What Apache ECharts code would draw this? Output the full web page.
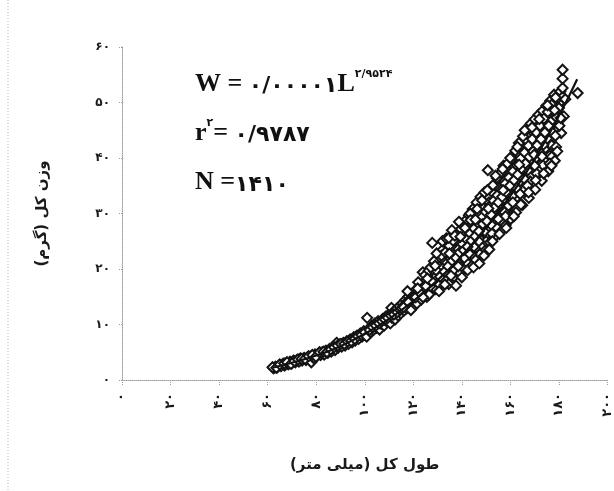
<!DOCTYPE html>
<html>
<head>
<meta charset="utf-8">
<script src="https://cdn.jsdelivr.net/npm/echarts@6/dist/echarts.min.js"></script>
<style>
  html, body { margin: 0; padding: 0; background: #fff; }
  #chart { width: 614px; height: 491px; }
</style>
</head>
<body>
<div id="chart"></div>
<script>
// Total length (mm) vs. total weight (g) of the sampled fish
const lengthWeightPoints = [
  [62.5,2.1],[63.2,2.4],[64.0,2.3],[64.8,2.7],[65.5,2.5],[66.3,2.9],[67.0,2.6],[67.8,3.1],[68.5,2.8],[69.2,3.3],
  [70.0,3.0],[70.6,3.5],[71.4,3.2],[72.1,3.6],[72.9,3.3],[73.5,3.9],[74.2,3.5],[75.0,4.0],[75.8,3.6],[76.5,4.1],
  [77.2,3.8],[78.0,4.3],[78.0,3.2],[78.8,4.0],[79.5,4.6],[80.3,4.3],
  [81.0,4.8],[81.8,4.5],[82.5,5.0],[83.3,4.6],[84.0,5.3],[84.8,4.9],[85.5,5.6],[86.2,5.1],[87.0,5.8],[87.8,5.4],
  [88.4,6.7],[89.0,5.8],[89.7,6.4],[90.5,6.0],[91.2,6.7],[91.9,6.2],[92.6,7.0],[93.3,6.5],[94.0,7.3],[94.8,6.8],
  [95.5,7.7],[96.1,7.1],[96.8,8.0],[97.5,7.4],[98.2,8.4],[98.9,7.8],[99.6,8.8],[100.3,8.1],[101.0,11.2],[101.2,8.7],
  [62.0,2.3],[63.6,2.2],[65.0,2.8],[66.8,3.0],[68.0,3.2],[69.6,2.9],[71.0,3.4],[72.5,3.7],[74.0,3.8],[75.4,3.8],
  [76.9,4.3],[78.4,4.5],[79.9,4.2],[81.4,5.0],[83.0,5.1],[84.4,5.0],[86.0,5.5],[87.4,5.9],[88.8,6.2],[90.2,6.5],
  [91.6,6.5],[93.0,6.9],[94.4,7.0],[95.9,7.4],[97.2,7.9],[98.6,8.1],[100.0,8.6],[100.8,7.8],
  [101.8,9.3],[102.4,8.6],[103.0,9.8],[103.6,9.0],[104.2,10.2],[104.9,9.4],[105.5,10.6],[106.1,9.1],[106.8,10.1],[107.4,11.0],
  [108.0,9.8],[108.6,11.4],[109.2,10.5],[109.9,11.8],[110.5,10.2],[111.0,13.0],[111.2,11.2],[111.8,12.3],[112.5,10.9],[113.1,12.8],
  [113.7,11.6],[114.3,13.3],[114.9,12.0],[115.5,13.8],[116.1,12.5],[116.7,14.4],[117.3,12.9],[117.9,15.0],[118.5,13.4],[119.1,15.5],
  [119.7,13.0],[120.3,14.6],[120.9,16.2],[121.5,13.8],[122.1,15.3],[122.7,17.0],[123.3,14.5],[123.9,19.4],[124.4,16.2],[125.0,17.8],
  [125.6,15.0],[126.2,16.8],[126.8,18.6],[127.4,15.9],
  [102.0,9.0],[103.3,9.5],[104.6,9.8],[105.9,10.2],[107.1,10.6],[108.3,10.9],[109.5,11.2],[110.8,11.6],[112.0,11.8],[113.4,12.2],
  [114.6,12.6],[115.8,13.3],[117.5,14.1],[119.4,14.6],[121.2,15.6],[123.6,16.0],[125.4,16.4],[126.5,15.4],[128.3,17.0],[129.9,17.8],
  [122.0,17.6],[124.8,18.9],[126.4,19.7],[119.0,12.6],[117.6,16.0],
  [127.8,24.7],[128.0,17.5],[128.6,19.6],[129.1,16.4],[129.7,18.3],[130.2,20.7],[130.8,17.2],[131.3,19.1],[131.9,23.4],[132.4,21.6],
  [133.0,18.0],[133.5,20.0],[134.0,22.5],[134.6,17.3],[135.1,19.0],[135.7,21.2],[136.2,23.8],[136.7,18.6],[137.3,20.3],[137.8,22.1],
  [138.3,25.0],[138.9,19.4],[139.4,21.4],[139.9,23.2],[140.5,26.3],[141.0,20.0],[141.5,22.4],[142.1,24.4],[142.6,27.0],[143.1,21.0],
  [143.7,23.3],[144.2,25.4],[144.7,28.5],[145.3,21.8],[145.8,24.3],[146.3,26.6],[146.9,29.9],[147.4,22.7],[147.9,25.2],[148.5,27.8],
  [149.0,31.0],[149.5,23.6],[150.1,26.2],[150.6,29.0],[150.7,37.8],[151.2,32.0],
  [130.0,21.8],[131.6,22.4],[133.2,23.0],[134.8,24.2],[136.4,25.1],[138.0,26.4],[139.6,27.2],[141.2,28.6],[142.9,29.7],[144.5,30.8],
  [146.1,32.0],[147.7,33.0],[149.3,33.8],[136.5,19.8],[139.0,21.0],[141.7,21.3],[144.0,22.7],[146.0,23.9],[148.0,24.4],[150.0,25.0],
  [133.0,17.2],[135.5,18.8],[138.5,20.5],[141.0,22.0],[143.0,22.8],[145.0,24.0],[147.0,25.0],[149.5,26.8],[143.4,30.0],[140.0,28.0],
  [151.6,24.8],[152.1,27.3],[152.7,30.2],[153.2,33.5],[153.7,25.9],[154.3,28.4],[154.8,31.3],[155.3,34.6],[155.9,26.8],[156.4,29.6],
  [156.9,32.4],[157.5,35.8],[158.0,27.9],[158.5,30.7],[159.1,33.6],[159.6,37.0],[160.1,29.0],[160.7,31.8],[161.2,34.8],[161.7,38.4],
  [162.3,30.2],[162.8,33.0],[163.3,36.1],[163.9,39.7],[164.4,42.2],[164.9,31.5],[165.5,34.4],[166.0,37.4],[166.5,40.8],[167.1,43.0],
  [167.6,32.8],[168.1,35.8],[168.6,38.8],[169.2,42.0],[169.7,44.4],[170.2,34.3],[170.8,37.2],[171.3,40.1],[171.8,43.3],[172.4,46.0],
  [172.9,35.9],[173.4,38.7],[174.0,41.6],[174.5,44.6],[175.0,47.6],[175.6,37.6],[176.1,40.4],[176.6,43.4],[177.2,46.2],[177.7,49.0],
  [177.0,42.3],[177.0,40.2],[178.3,39.5],[178.8,42.0],[179.3,45.0],[179.8,48.0],[180.4,50.0],[180.9,44.5],
  [152.4,26.4],[154.0,27.6],[156.0,28.8],[157.6,30.2],[159.2,31.4],[160.9,33.2],[162.5,34.6],[164.0,35.8],[165.6,36.3],[167.2,37.8],
  [169.0,39.5],[170.5,40.0],[172.0,41.1],[173.6,42.4],[175.2,43.5],[176.8,44.8],[178.5,44.0],[179.5,46.3],
  [152.8,35.1],[154.4,36.4],[156.0,37.3],[157.2,38.6],[158.8,39.0],[160.4,40.1],[162.0,41.3],[163.5,42.7],[165.2,43.9],[166.9,45.2],
  [168.4,46.2],[170.0,47.0],[171.6,47.8],[173.2,48.5],[174.8,49.4],[176.4,50.3],[178.0,51.4],[179.6,50.8],[180.6,52.0],[180.2,45.8],
  [176.2,39.0],[173.0,40.3],[170.0,38.6],[167.0,35.0],[164.0,33.5],[161.0,32.0],[158.0,29.5],[155.0,29.0],[152.0,28.0],
  [181.5,51.0],[181.5,52.6],[181.5,54.3],[181.5,55.9],[182.0,47.5],[182.6,50.6],[187.7,51.7],
  [115.2,12.9],[117.0,13.6],[118.8,14.3],[120.6,15.0],[122.4,15.8],[124.2,16.6],[126.0,17.4],[127.0,16.9],[128.8,18.4],[130.5,19.3],
  [132.2,20.2],[133.9,21.1],[135.5,21.9],[137.0,22.8],[138.6,23.6],[140.2,24.5],[141.8,25.4],[143.4,26.4],[145.0,27.3],[146.6,28.3],
  [148.2,29.3],[149.8,30.3],[151.4,31.3],[153.0,32.3],[154.6,33.3],[156.2,34.3],[157.8,35.4],[159.4,36.5],[161.0,37.6],[162.6,38.7],
  [164.2,39.9],[165.8,41.0],[167.4,42.2],[169.0,43.4],[170.6,44.6],[172.2,45.8],[173.8,47.1],[175.4,48.3],[177.0,49.6],[178.6,50.9],
  [180.0,49.0],
  [116.0,13.1],[118.0,14.0],[121.0,14.9],[123.0,15.6],[125.2,16.9],[127.6,17.8],[129.4,19.8],[131.0,18.6],[132.8,19.5],[134.3,20.5],
  [136.0,21.5],[137.6,22.0],[139.1,23.0],[140.8,23.4],[142.3,24.0],[143.9,25.1],[145.5,25.9],[147.0,26.8],[148.6,28.1],[150.3,28.6],
  [152.0,29.8],[153.5,31.1],[155.0,32.0],[156.6,33.0],[158.2,33.9],[159.8,35.0],[161.5,36.0],[163.0,37.0],[164.6,38.1],[166.2,39.0],
  [167.8,40.2],[169.4,41.2],[171.0,42.3],[172.6,43.4],[174.2,44.6],[175.8,45.8],[177.4,46.9],[179.0,47.3],
  [121.8,16.5],[124.0,14.9],[125.8,18.3],[127.2,20.3],[128.5,21.4],[129.6,22.8],[130.6,16.0],[132.0,25.0],[133.6,25.5],[134.6,25.6],
  [135.9,27.0],[137.1,26.0],[137.6,17.0],[138.8,28.5],[140.0,18.5],[141.3,27.4],[142.4,19.8],[143.6,28.8],[144.8,20.3],[146.3,30.8],
  [147.2,21.0],[148.3,32.4],[149.1,22.4],[150.5,34.2],[151.3,23.5],[152.6,25.0],[153.9,36.8],[155.5,26.3],[156.8,38.0],[158.3,27.4],
  [159.9,40.0],[161.4,29.5],[162.9,42.0],[164.3,31.6],[165.9,45.0],[167.5,33.8],[168.9,45.5],[170.4,36.0],[171.9,47.0],[173.7,37.2],
  [175.3,49.5],[176.9,38.6],[178.2,48.6],[179.3,41.2],[180.7,47.2],[169.8,40.6],[163.6,38.8],[157.0,34.2],[150.9,30.9],[145.6,28.9],
  [139.4,25.8],[134.9,22.8],[129.0,20.6]
];

// Fitted power curve W = aL^b, sampled along the length range
const fitLengths = [62, 70, 80, 90, 100, 110, 120, 130, 140, 150, 160, 170, 180, 187.5];
const fitWeights = [2.2, 3.1, 4.4, 6.1, 8.3, 11.0, 14.2, 18.0, 22.4, 27.5, 33.2, 39.8, 47.6, 54.2];

// Axis ticks
const xTicks = [0, 20, 40, 60, 80, 100, 120, 140, 160, 180, 200];
const yTicks = [0, 10, 20, 30, 40, 50, 60];

const xAxisTitle = 'طول کل (میلی متر)';
const yAxisTitle = 'وزن کل (گرم)';

const FA_DIGITS = '۰۱۲۳۴۵۶۷۸۹';
function toPersianDigits(v) {
  return String(v).replace(/\d/g, d => FA_DIGITS[d]);
}
// Keep the right-to-left phrase in one RTL run so the parentheses land correctly
function rtl(s) { return '\u200F' + s + '\u200F'; }

const chart = echarts.init(document.getElementById('chart'), null, { renderer: 'canvas' });

const dotted = { color: '#9a9a9a', width: 1, type: [1, 1] };
const labelFont = 'DejaVu Sans';

// Rich-text styles for the regression statistics block
const statRich = {
  m: { fontFamily: 'Liberation Serif', fontWeight: 'bold', fontSize: 26, fill: '#111', lineHeight: 30 },
  d: { fontFamily: 'DejaVu Sans', fontWeight: 'bold', fontSize: 22, fill: '#111', lineHeight: 30, padding: [5, 0, 0, 0] },
  s: { fontFamily: 'DejaVu Sans', fontWeight: 'bold', fontSize: 11, fill: '#111', verticalAlign: 'top', lineHeight: 12 }
};

chart.setOption({
  backgroundColor: '#ffffff',
  animation: false,
  grid: { left: 122, right: 5, top: 47, bottom: 111, containLabel: false },
  xAxis: {
    type: 'value',
    min: xTicks[0],
    max: xTicks[xTicks.length - 1],
    interval: xTicks[1] - xTicks[0],
    name: rtl(xAxisTitle),
    nameLocation: 'middle',
    nameGap: 78,
    nameTextStyle: { fontFamily: labelFont, fontWeight: 'bold', fontSize: 15, color: '#1a1a1a' },
    axisLine: { show: true, lineStyle: dotted },
    axisTick: { show: true, inside: false, length: 6, lineStyle: dotted },
    splitLine: { show: false },
    axisLabel: {
      rotate: 90,
      margin: 13,
      fontFamily: labelFont,
      fontWeight: 'bold',
      fontSize: 13,
      color: '#1a1a1a',
      formatter: v => toPersianDigits(v)
    }
  },
  yAxis: {
    type: 'value',
    min: yTicks[0],
    max: yTicks[yTicks.length - 1],
    interval: yTicks[1] - yTicks[0],
    name: rtl(yAxisTitle),
    nameLocation: 'middle',
    nameRotate: 90,
    nameGap: 72,
    nameTextStyle: { fontFamily: labelFont, fontWeight: 'bold', fontSize: 15, color: '#1a1a1a' },
    axisLine: { show: true, lineStyle: dotted },
    axisTick: { show: true, length: 4, lineStyle: dotted },
    splitLine: { show: false },
    axisLabel: {
      margin: 12,
      fontFamily: labelFont,
      fontWeight: 'bold',
      fontSize: 12,
      color: '#1a1a1a',
      formatter: v => toPersianDigits(v)
    }
  },
  graphic: [
    {
      type: 'line',
      shape: { x1: 8, y1: 0, x2: 8, y2: 491 },
      style: { stroke: '#b5b5b5', lineWidth: 1, lineDash: [1, 2] },
      silent: true
    },
    {
      type: 'text',
      left: 195,
      top: 69,
      style: {
        text: '{m|W = }{d|' + toPersianDigits('0/00001') + '}{m|L}{s|' + toPersianDigits('2/9524') + '}',
        rich: statRich
      }
    },
    {
      type: 'text',
      left: 195,
      top: 118,
      style: {
        text: '{m|r}{s|' + toPersianDigits('2') + '}{m|= }{d|' + toPersianDigits('0/9787') + '}',
        rich: statRich
      }
    },
    {
      type: 'text',
      left: 195,
      top: 169,
      style: {
        text: '{m|N =}{d|' + toPersianDigits('1410') + '}',
        rich: statRich
      }
    }
  ],
  series: [
    {
      type: 'scatter',
      data: lengthWeightPoints,
      symbol: 'diamond',
      symbolSize: 10,
      itemStyle: { color: '#ffffff', borderColor: '#141414', borderWidth: 2, opacity: 1 },
      z: 2
    },
    {
      type: 'line',
      data: fitLengths.map((l, i) => [l, fitWeights[i]]),
      smooth: true,
      showSymbol: false,
      lineStyle: { color: '#111', width: 2.2 },
      z: 3
    }
  ]
});
</script>
</body>
</html>
